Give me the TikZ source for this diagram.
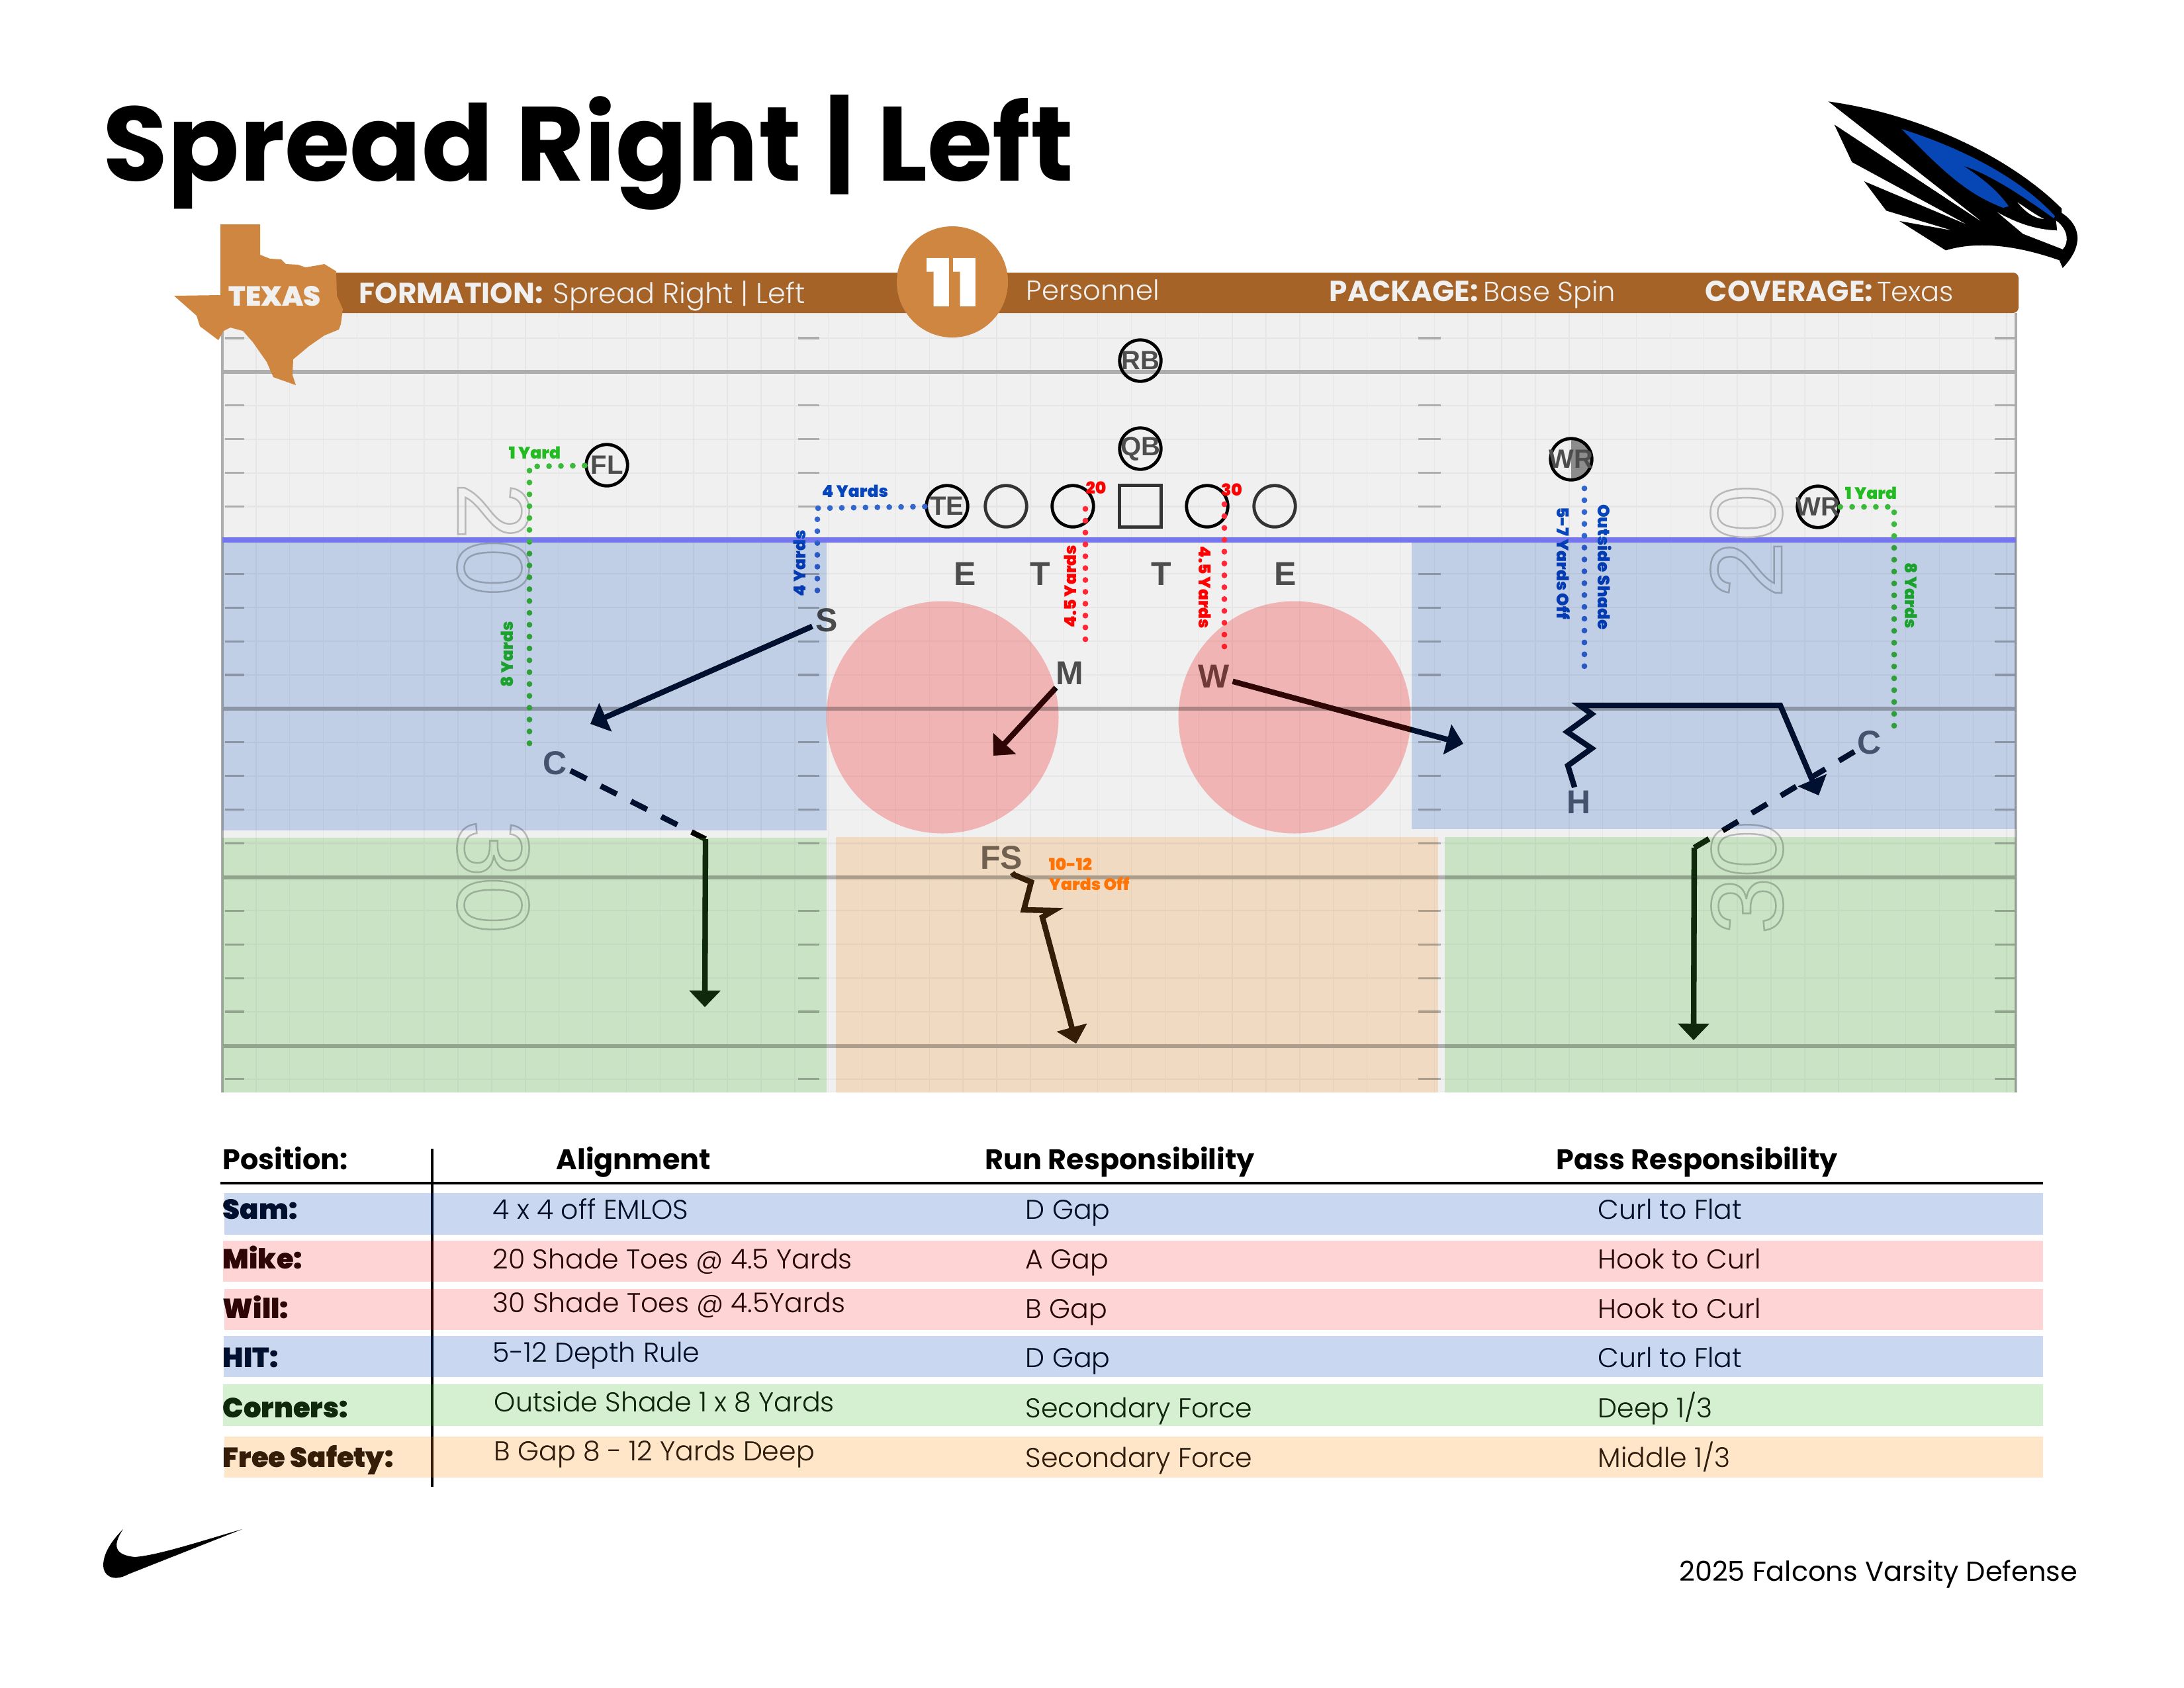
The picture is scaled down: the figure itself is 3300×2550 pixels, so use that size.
\documentclass[tikz,border=0pt]{standalone}
\usepackage{fontspec}
\setmainfont{Poppins}
\newfontfamily\lightf{Poppins Light}
\newfontfamily\blackf{Poppins Black}
\newfontfamily\arialf{Liberation Sans}
\usepackage{tikz}
\usetikzlibrary{arrows.meta,positioning}
\definecolor{barc}{HTML}{A56328}
\definecolor{texc}{HTML}{CF8640}
\definecolor{fieldc}{HTML}{F0F0F0}
\definecolor{gridc}{HTML}{E6E6E6}
\definecolor{linec}{HTML}{ADADAD}
\definecolor{losc}{HTML}{7575EE}
\definecolor{playc}{HTML}{4D4D4D}
\definecolor{tintb}{HTML}{565F72}
\definecolor{tintp}{HTML}{704E4E}
\definecolor{tinto}{HTML}{706A62}
\definecolor{blueb}{HTML}{C9D8F0}
\definecolor{pinkb}{HTML}{FFD4D4}
\definecolor{greenb}{HTML}{D5F0D0}
\definecolor{orangeb}{HTML}{FFE6C9}
\definecolor{bluez}{HTML}{CDDCF4}
\definecolor{greenz}{HTML}{D8F2D2}
\definecolor{orangez}{HTML}{FFE9CF}
\definecolor{circc}{HTML}{FFC0C0}
\definecolor{darkb}{HTML}{001030}
\definecolor{darkp}{HTML}{300505}
\definecolor{darkg}{HTML}{0F2A0A}
\definecolor{darko}{HTML}{351D08}
\definecolor{dotb}{HTML}{3366CC}
\definecolor{dotg}{HTML}{3CB83C}
\definecolor{dotr}{HTML}{FF2838}
\definecolor{labb}{HTML}{0645BB}
\definecolor{labg}{HTML}{22BB22}
\definecolor{labo}{HTML}{FF8000}
\definecolor{falc}{HTML}{0647B5}
\tikzset{
  player/.style={circle,draw=black,line width=1.15pt,minimum size=15pt,inner sep=0pt,font=\arialf\bfseries\fontsize{9.6}{10}\selectfont,text=playc},
  lineman/.style={circle,draw=black!80,line width=1.15pt,minimum size=15pt,inner sep=0pt},
  defn/.style={font=\arialf\bfseries\fontsize{12}{12}\selectfont,text=playc,inner sep=1pt},
  route/.style={line width=2pt,black,-{Triangle[length=6pt,width=11pt]}},
  routeb/.style={line width=2pt,black},
  dots/.style={draw=#1,line width=2.1pt,line cap=round,dash pattern=on 0pt off 4.3pt},
  tiny/.style={font=\blackf\fontsize{6}{6}\selectfont,text=#1,inner sep=0pt},
  hdr/.style={anchor=base west,inner sep=0pt,text=fieldc,font=\lightf\fontsize{10}{12}\selectfont},
  hbold/.style={anchor=base west,inner sep=0pt,text=fieldc,font=\bfseries\fontsize{10.5}{12}\selectfont},
  thd/.style={anchor=base west,inner sep=0pt,font=\bfseries\fontsize{10.3}{12}\selectfont},
  posn/.style={anchor=base west,inner sep=0pt,font=\blackf\fontsize{10}{12}\selectfont},
  cell/.style={anchor=base west,inner sep=0pt,font=\lightf\fontsize{9.85}{12}\selectfont},
  num/.style={inner sep=0pt,font=\arialf\fontsize{37}{37}\selectfont}
}
\newcommand{\outl}[1]{\special{pdf:code 1 Tr 0.6 w 0.72 G}#1\special{pdf:code 0 Tr}}
\newcommand{\pl}[1]{\makebox[0pt]{#1}}
\begin{document}
\begin{tikzpicture}[x=0.24pt,y=-0.24pt]
\useasboundingbox (0,0) rectangle (3300,2550);
\fill[white] (0,0) rectangle (3300,2550);
% field
\fill[fieldc] (336,473) rectangle (3046,1651);
\foreach \k in {0,...,53} \draw[gridc,line width=.35pt] ({336+50.87*\k},473) -- ({336+50.87*\k},1651);
\foreach \k in {0,...,22} {
  \draw[gridc,line width=.5pt] (336,{511+50.9*\k}) -- (3046,{511+50.9*\k});
  \foreach \a/\b in {340/369,1206/1238,2143/2177,3014/3044} \draw[linec,line width=.75pt] (\a,{511+50.9*\k}) -- (\b,{511+50.9*\k});
}
\foreach \y in {562,1071,1326,1581} \draw[linec,line width=1.3pt] (336,\y) -- (3046,\y);
\draw[linec,line width=1.1pt] (336,473) -- (336,1651) (3046,473) -- (3046,1651);
\draw[losc,line width=2pt] (336,816) -- (3046,816);
\node[num,rotate=-90] (n20l) at (745,815) {\outl{20}};
\node[num,rotate=-90] (n30l) at (745,1325) {\outl{30}};
\node[num,rotate=90] (n20r) at (2639,818) {\outl{20}};
\node[num,rotate=90] (n30r) at (2640,1326) {\outl{30}};
% offense
\node[player] (RB) at (1723,545) {\pl{RB}};
\node[player] (QB) at (1723,678) {\pl{QB}};
\node[player] (TE) at (1431,765) {\pl{TE}};
\node[lineman] (LT) at (1520,765) {};
\node[lineman,draw=black] (LG) at (1621,765) {};
\node[lineman,rectangle] (CN) at (1723,765) {};
\node[lineman,draw=black] (RG) at (1824,765) {};
\node[lineman] (RT) at (1926,765) {};
\node[player] (FL) at (917,703) {\pl{FL}};
\fill[black!45] (2374,661) arc (-90:90:33) -- cycle;
\node[player] (WRa) at (2374,694) {\pl{WR}};
\node[player] (WRb) at (2747,766) {\pl{WR}};
% defense
\node[defn] (Ea) at (1458,867) {E};
\node[defn] (Ta) at (1572,867) {T};
\node[defn] (Tb) at (1755,867) {T};
\node[defn] (Eb) at (1942,867) {E};
\node[defn] (S) at (1249,937) {S};
\node[defn] (M) at (1616,1017) {M};
\node[defn,text=tintp] (W) at (1834,1022) {W};
\node[defn,text=tintb] (Ca) at (839,1153) {C};
\node[defn,text=tintb] (Cb) at (2825,1122) {C};
\node[defn,text=tintb] (H) at (2386,1212) {H};
\node[defn,text=tinto] (FS) at (1513,1296) {FS};
% alignment marks
\coordinate (flb) at (800,705); \coordinate (fle) at (800,1126);
\draw[dots=dotg] (FL) -- (flb) -- (fle);
\node[tiny=labg,anchor=base] (fla) at (808,693) {1 Yard};
\node[tiny=labg,rotate=90] (flc) at (766,989) {8 Yards};
\coordinate (teb) at (1235,768); \coordinate (tee) at (1235,896);
\draw[dots=dotb] (TE) -- (teb) -- (tee);
\node[tiny=labb,anchor=base] (tea) at (1292,751) {4 Yards};
\node[tiny=labb,rotate=90] (tec) at (1208,851) {4 Yards};
\coordinate (ra) at (1640,769); \coordinate (rb) at (1640,971);
\coordinate (rc) at (1850,762); \coordinate (rd) at (1850,981);
\draw[dots=dotr] (ra) -- (rb);
\draw[dots=dotr] (rc) -- (rd);
\node[tiny=red] (tw) at (1656,737) {20};
\node[tiny=red] (th) at (1861,740) {30};
\node[tiny=red,rotate=90] (rla) at (1617,886) {4.5 Yards};
\node[tiny=red,rotate=-90] (rlb) at (1821,888) {4.5 Yards};
\coordinate (wrs) at (2394,738); \coordinate (wre) at (2394,1011);
\draw[dots=dotb] (wrs) -- (wre);
\node[tiny=labb,rotate=-90] (wrl) at (2362,851) {5-7 Yards Off};
\node[tiny=labb,rotate=-90] (wrm) at (2425,857) {Outside Shade};
\coordinate (wrb) at (2862,766); \coordinate (wrf) at (2862,1112);
\draw[dots=dotg] (WRb) -- (wrb) -- (wrf);
\node[tiny=labg,anchor=base] (wrn) at (2827,754) {1 Yard};
\node[tiny=labg,rotate=-90] (wro) at (2888,900) {8 Yards};
\node[tiny=labo,anchor=base west] (fsa) at (1584,1315) {10-12};
\node[tiny=labo,anchor=base west] (fsb) at (1584,1345) {Yards Off};
% routes
\coordinate (sd) at (892,1094);
\draw[route] (S) -- (sd);
\coordinate (md) at (1501,1142);
\draw[route] (M) -- (md);
\coordinate (wd) at (2211,1124);
\draw[route] (W) -- (wd);
\coordinate (cla) at (1066,1268); \coordinate (clb) at (1065,1522);
\draw[routeb,dash pattern=on 6.5pt off 5.8pt] (Ca) -- (cla);
\draw[route] (cla) -- (clb);
\coordinate (cra) at (2560,1281); \coordinate (crb) at (2559,1572);
\draw[routeb,dash pattern=on 6.5pt off 5.8pt] (Cb) -- (cra);
\draw[route] (cra) -- (crb);
\coordinate (hk) at (2387,1066); \coordinate (hl) at (2690,1066); \coordinate (hd) at (2748,1202);
\draw[route,line join=miter] (H) -- (2369,1157) -- (2405,1131) -- (2368,1106) -- (2405,1079) -- (hk) -- (hl) -- (hd);
\coordinate (fe) at (1626,1577);
\draw[route] (FS) -- (1532,1322) -- (1558,1333) -- (1547,1375) -- (1592,1376) -- (1575,1386) -- (fe);
% zones
\foreach \xa/\ya/\xb/\yb/\c/\d in {336/820/1249/1255/bluez/darkb,2133/820/3046/1253/bluez/darkb,336/1266/1249/1651/greenz/darkg,2183/1265/3046/1651/greenz/darkg,1263/1265/2173/1651/orangez/darko} {
  \fill[\c,blend mode=multiply] (\xa,\ya) rectangle (\xb,\yb);
  \fill[\d,blend mode=lighten] (\xa,\ya) rectangle (\xb,\yb);
}
\foreach \x in {1424,1956} {
  \fill[circc,blend mode=multiply] (\x,1084) circle (175.5);
  \fill[darkp,blend mode=lighten] (\x,1084) circle (175.5);
}
% header
\fill[barc,rounded corners=2pt] (500,412) rectangle (3050,473);
\fill[texc] (333,339) -- (393,339) -- (393,385) -- (408,391) -- (425,392) -- (432,399) -- (450,400) -- (462,404) -- (480,401) -- (490,399) -- (508,410) -- (509,447) -- (518,467) -- (515,490) -- (512,498) -- (490,507) -- (467,523) -- (443,543) -- (442,567) -- (447,582) -- (413,570) -- (403,547) -- (382,517) -- (367,500) -- (348,495) -- (338,500) -- (330,514) -- (302,493) -- (297,477) -- (263,447) -- (333,446) -- cycle;
\node[hbold,font=\blackf\fontsize{10}{12}\selectfont] (tx) at (345,462) {TEXAS};
\fill[texc] (1439,426) circle (84);
\node[font=\blackf\fontsize{24}{24}\selectfont,white,inner sep=0pt] (pers) at (1439,427) {11};
\node[hbold] (fm) at (542,458) {FORMATION:};
\node[hdr,font=\lightf\fontsize{10.3}{12}\selectfont] (fmv) at (835,458) {Spread Right | Left};
\node[hdr] (pn) at (1550,453) {Personnel};
\node[hbold] (pk) at (2008,455) {PACKAGE:};
\node[hdr] (pkv) at (2241,455) {Base Spin};
\node[hbold] (cv) at (2576,455) {COVERAGE:};
\node[hdr,anchor=base east] (cvv) at (2953,455) {Texas};
% title
\node[anchor=base west,inner sep=0pt,font=\bfseries\fontsize{38.3}{39}\selectfont] (ttl) at (155,273) {Spread Right | Left};
% falcon
\begin{scope}[shift={(2740,130)},x=0.08pt,y=-0.08pt]
\fill[black] (68,70) .. controls (500,130) and (900,330) .. (1125,555) -- (1125,575) .. controls (1210,630) and (1230,720) .. (1130,825) -- (1115,790) .. controls (930,725) and (750,700) .. (600,745) -- (390,612) -- (630,655) -- (330,565) -- (230,432) -- (700,630) -- (175,345) -- (95,175) -- (770,620) -- cycle;
\fill[falc] (400,195) .. controls (700,290) and (950,430) .. (1095,590) -- (1090,600) .. controls (950,500) and (800,400) .. (680,362) .. controls (770,420) and (840,480) .. (885,545) -- (860,552) .. controls (700,490) and (600,400) .. (400,195) -- cycle;
\fill[white] (835,573) -- (950,670) -- (1130,740) .. controls (1160,710) and (1155,650) .. (1100,610) -- (1105,655) .. controls (1000,650) and (920,620) .. (835,573) -- cycle;
\fill[white] (925,527) .. controls (960,570) and (1000,600) .. (1045,603) .. controls (1000,580) and (960,550) .. (925,527) -- cycle;
\end{scope}
% table
\draw[black,line width=1pt] (333,1788) -- (3087,1788);
\draw[black,line width=.9pt] (653,1736) -- (653,2247);
\node[thd] (hp) at (336,1767) {Position:};
\node[thd] (ha) at (840,1767) {Alignment};
\node[thd] (hr) at (1488,1767) {Run Responsibility};
\node[thd] (hs) at (2351,1767) {Pass Responsibility};
\foreach \n/\t/\y/\r/\s in {a/Sam:/1842/D Gap/Curl to Flat,
  b/Mike:/1917/A Gap/Hook to Curl,
  c/Will:/1992/B Gap/Hook to Curl,
  d/HIT:/2066/D Gap/Curl to Flat,
  e/Corners:/2142/Secondary Force/Deep 1\slash 3,
  f/Free Safety:/2217/Secondary Force/Middle 1\slash 3} {
  \node[posn] (p\n) at (336,\y) {\t};
  \node[cell] (r\n) at (1549,\y) {\r};
  \node[cell] (s\n) at (2414,\y) {\s};
}
\node[cell] (ca) at (744,1842) {4 x 4 off EMLOS};
\node[cell] (cb) at (744,1917) {20 Shade Toes @ 4.5 Yards};
\node[cell] (cc) at (744,1983) {30 Shade Toes @ 4.5Yards};
\node[cell] (cd) at (744,2058) {5-12 Depth Rule};
\node[cell] (ce) at (746,2133) {Outside Shade 1 x 8 Yards};
\node[cell] (cf) at (746,2207) {B Gap 8 - 12 Yards Deep};
\foreach \ya/\yb/\c/\d/\xa in {1803/1866/blueb/darkb/339,1875/1937/pinkb/darkp/337,1948/2010/pinkb/darkp/339,2019/2081/blueb/darkb/338,2092/2155/greenb/darkg/337,2171/2233/orangeb/darko/339} {
  \fill[\c,blend mode=multiply] (\xa,\ya) rectangle (3087,\yb);
  \fill[\d,blend mode=lighten] (\xa,\ya) rectangle (3087,\yb);
}
% footer
\fill[black] (186,2311) .. controls (170,2335) and (172,2350) .. (204,2353) .. controls (240,2350) and (300,2330) .. (366,2311) -- (194,2379) .. controls (170,2392) and (156,2380) .. (156,2366) .. controls (156,2345) and (172,2325) .. (186,2311) -- cycle;
\node[anchor=base east,inner sep=0pt,font=\fontsize{9.95}{12}\selectfont] (ft) at (3140,2389) {2025 Falcons Varsity Defense};
\end{tikzpicture}
\end{document}
